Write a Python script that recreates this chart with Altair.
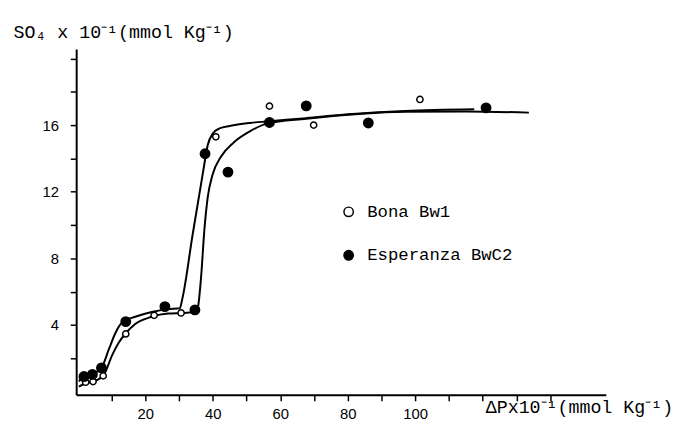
import altair as alt
import pandas as pd

# Measured points
bona_x = [2.3, 4.5, 7.5, 14.2, 22.6, 30.6, 40.9, 56.8, 69.9, 101.4]
bona_y = [0.56, 0.6, 0.94, 3.46, 4.58, 4.72, 15.3, 17.14, 16.0, 17.54]
esp_x = [1.8, 4.3, 7.0, 14.2, 25.8, 34.7, 37.7, 44.5, 56.8, 67.7, 86.1, 121.0]
esp_y = [0.9, 1.03, 1.42, 4.2, 5.1, 4.9, 14.28, 13.18, 16.16, 17.16, 16.13, 17.04]

# Hand-fitted curves
curve_a_x = [0.3, 1.8, 4.3, 7.0, 9.2, 11.1, 13.1, 17.0, 21.9, 26.7, 30.2, 31.0, 34.0,
             37.2, 38.5, 40.0, 42.0, 45.0, 51.1, 56.0, 67.7, 80, 97, 117.5]
curve_a_y = [0.6, 0.95, 1.05, 1.42, 2.54, 3.5, 4.14, 4.49, 4.78, 4.95, 5.0, 5.6, 9.4,
             13.3, 14.8, 15.5, 15.8, 15.95, 16.13, 16.22, 16.42, 16.65, 16.85, 16.95]
curve_b_x = [0.3, 2.3, 4.5, 7.7, 10.1, 12.1, 14.2, 17.0, 21.9, 26.7, 31.6, 35.0, 35.6,
             36.5, 37.5, 38.5, 39.9, 42.4, 46.2, 51.1, 56.0, 67.7, 97, 115, 133.7]
curve_b_y = [0.3, 0.5, 0.6, 1.0, 2.16, 2.93, 3.5, 4.06, 4.49, 4.68, 4.72, 4.8, 5.07,
             6.8, 9.7, 11.67, 13.0, 14.1, 14.96, 15.64, 16.09, 16.38, 16.8, 16.82, 16.75]

series_names = ["Bona Bw1", "Esperanza BwC2"]
x_ticks = list(range(10, 150, 10))
y_ticks = list(range(2, 22, 2))

bona = pd.DataFrame({"x": bona_x, "y": bona_y, "series": series_names[0]})
esp = pd.DataFrame({"x": esp_x, "y": esp_y, "series": series_names[1]})
curves = pd.DataFrame(
    {"x": curve_a_x + curve_b_x,
     "y": curve_a_y + curve_b_y,
     "curve": ["A"] * len(curve_a_x) + ["B"] * len(curve_b_x)}
)

xscale = alt.Scale(domain=[-0.5, 156.5], nice=False, zero=False)
yscale = alt.Scale(domain=[-0.2, 20.57], nice=False, zero=False)

xaxis = alt.Axis(
    values=x_ticks, tickCount=40, format="d",
    labelExpr="(datum.value % 20 == 0 && datum.value <= 100) ? datum.label : ''",
    labelOverlap=False,
    title="ΔPx10⁻¹(mmol Kg⁻¹)",
    titleX=414, titleY=18, titleAlign="left", titleBaseline="alphabetic",
    titleFont="Liberation Mono", titleFontSize=18.5, titleFontWeight="normal",
    labelPadding=6,
)
yaxis = alt.Axis(
    values=y_ticks, tickCount=40, format="d",
    labelExpr="(datum.value % 4 == 0 && datum.value <= 16) ? datum.label : ''",
    labelOverlap=False,
    title="SO₄ x 10⁻¹(mmol Kg⁻¹)",
    titleAngle=0, titleX=-64, titleY=-12, titleAlign="left", titleBaseline="alphabetic",
    titleFont="Liberation Mono", titleFontSize=18.5, titleFontWeight="normal",
    labelPadding=12,
)

lines = alt.Chart(curves).mark_line(
    interpolate="monotone", color="black", strokeWidth=2
).encode(
    x=alt.X("x:Q", scale=xscale, axis=xaxis),
    y=alt.Y("y:Q", scale=yscale, axis=yaxis),
    detail="curve:N",
)

fill_enc = alt.Fill(
    "series:N",
    scale=alt.Scale(domain=series_names, range=["white", "black"]),
    legend=alt.Legend(
        title=None, orient="none", legendX=267, legendY=156,
        labelFont="Liberation Mono", labelFontSize=17.5, labelColor="black",
        symbolSize=90, symbolStrokeColor="black", symbolStrokeWidth=1.5,
        symbolType="circle",
        rowPadding=25, labelOffset=10, padding=0,
    ),
)

open_pts = alt.Chart(bona).mark_point(
    filled=True, shape="circle", stroke="black", strokeWidth=1.5, opacity=1, size=40
).encode(
    x=alt.X("x:Q", scale=xscale),
    y=alt.Y("y:Q", scale=yscale),
    fill=fill_enc,
)
filled_pts = alt.Chart(esp).mark_point(
    filled=True, shape="circle", stroke="black", strokeWidth=1.5, opacity=1, size=90
).encode(
    x=alt.X("x:Q", scale=xscale),
    y=alt.Y("y:Q", scale=yscale),
    fill=fill_enc,
)

chart = alt.layer(lines, open_pts, filled_pts).properties(
    width=536, height=350,
    autosize=alt.AutoSizeParams(type="none"),
    padding={"left": 69, "top": 39, "right": 67, "bottom": 30},
    background="white",
).configure_view(stroke=None).configure_axis(
    grid=False,
    domainColor="black", domainWidth=2,
    tickColor="black", tickWidth=1.5, tickSize=6,
    labelFont="Liberation Sans", labelFontSize=15, labelColor="black",
    titleColor="black",
)

chart.save("out.html", embed_options={"renderer": "svg", "actions": False})
